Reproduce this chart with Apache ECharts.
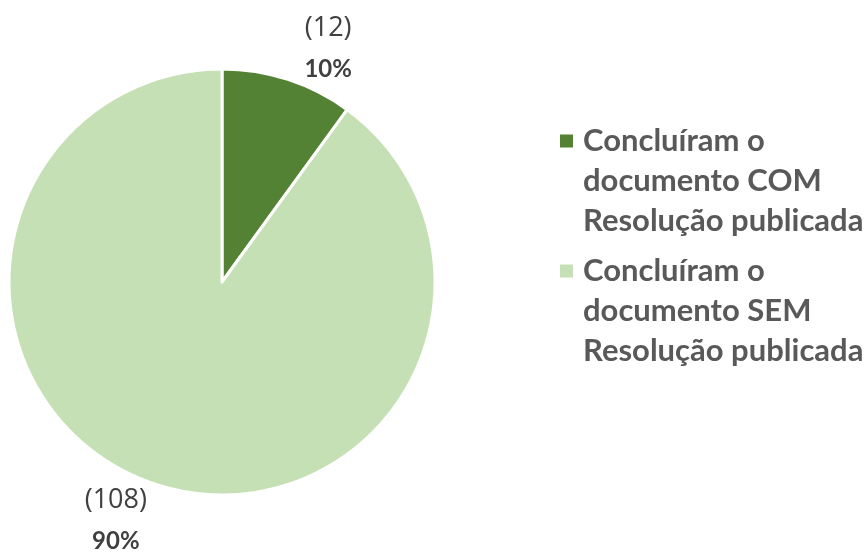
<!DOCTYPE html>
<html><head><meta charset="utf-8">
<script src="https://cdn.jsdelivr.net/npm/echarts@6/dist/echarts.min.js"></script>
<style>html,body{margin:0;padding:0;background:#fff}#c{width:865px;height:553px}</style>
</head><body><div id="c"></div>
<script>
const categories = ["Concluíram o\ndocumento COM\nResolução publicada", "Concluíram o\ndocumento SEM\nResolução publicada"];
const values = [12, 108];
const percents = ["10%", "90%"];
const colors = ["#548235", "#C5E0B4"];

const total = values.reduce((a, b) => a + b, 0);
const center = [222, 282];
const radius = 213;

const chart = echarts.init(document.getElementById('c'), null, {renderer: 'canvas'});
chart.setOption({
  animation: false,
  backgroundColor: '#ffffff',
  legend: {
    orient: 'vertical',
    left: 560,
    top: 121,
    padding: 0,
    itemWidth: 18,
    itemHeight: 120,
    itemGap: 10,
    icon: 'path://M0,0L18,0M0,13.5L13,13.5L13,26.5L0,26.5ZM0,120L18,120',
    itemStyle: {borderWidth: 0},
    selectedMode: false,
    textStyle: {
      fontFamily: 'Lato',
      fontWeight: 'bold',
      fontSize: 31,
      lineHeight: 40,
      color: '#595959'
    },
    data: categories
  },
  series: [{
    type: 'pie',
    center: center,
    radius: radius,
    startAngle: 90,
    clockwise: true,
    itemStyle: {borderColor: '#ffffff', borderWidth: 3},
    label: {
      show: true,
      position: 'outside',
      formatter: p => '{a|(' + values[p.dataIndex] + ')}\n{b|' + percents[p.dataIndex] + '}',
      rich: {
        a: {fontFamily: 'Open Sans', fontSize: 27, color: '#404040', lineHeight: 41, align: 'center'},
        b: {fontFamily: 'Lato', fontWeight: 'bold', fontSize: 24, color: '#404040', lineHeight: 41, align: 'center'}
      }
    },
    labelLine: {show: false},
    labelLayout: function (p) {
      let cum = 0;
      for (let i = 0; i < p.dataIndex; i++) cum += values[i];
      const mid = (cum + values[p.dataIndex] / 2) / total * 360 + 6.2;
      const a = mid * Math.PI / 180;
      const d = 259;
      return {
        x: center[0] + d * Math.sin(a),
        y: center[1] - d * Math.cos(a) + 3,
        align: 'center',
        verticalAlign: 'middle'
      };
    },
    data: categories.map((n, i) => ({name: n, value: values[i], itemStyle: {color: colors[i]}}))
  }]
});
</script></body></html>
